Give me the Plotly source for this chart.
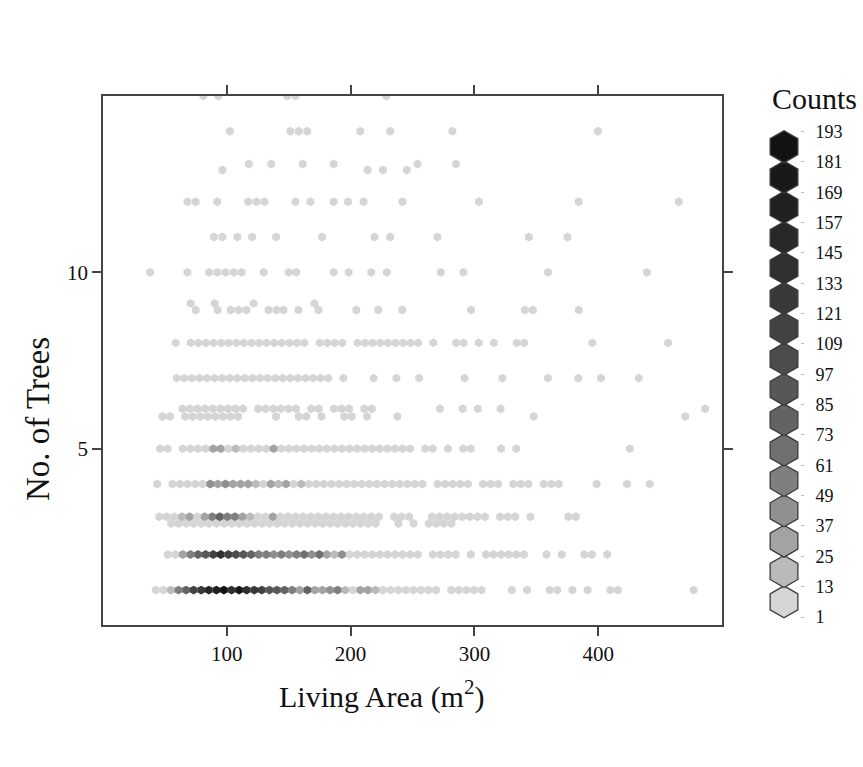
import plotly.graph_objects as go

# ---------------- data ----------------
HEX_DX = 6.12  # spacing of hexagon columns, in m^2

# dense rows: (row y, x of first column, counts per column; 0 = empty)
row1_y, row1_x0 = 0.99, 42.6
row1_counts = [5, 8, 18, 60, 75, 110, 125, 150, 165, 193,
               135, 180, 140, 130, 115, 95, 90, 75, 60, 35,
               75, 25, 35, 45, 55, 18, 10, 35, 28, 14,
               9, 7, 10, 6, 8, 5, 6, 4, 0, 5,
               6, 4, 5, 3, 0, 0, 0, 2, 0, 3,
               0, 0, 2, 3, 0, 2, 0, 2, 0, 0,
               2, 1, 0, 0, 0, 0, 0, 0, 0, 0,
               0, 1]
row2_y, row2_x0 = 2.0, 52.3
row2_counts = [6, 10, 35, 55, 75, 90, 110, 135, 115, 105,
               95, 75, 60, 55, 45, 55, 45, 55, 70, 45,
               70, 35, 18, 45, 12, 9, 10, 8, 7, 9,
               6, 8, 5, 4, 0, 5, 4, 3, 3, 0,
               2, 0, 3, 4, 3, 2, 3, 2, 0, 0,
               2, 0, 1, 0, 0, 2, 1, 0, 1]
row3u_y, row3u_x0 = 3.07, 45.4
row3u_counts = [5, 7, 9, 15, 35, 10, 25, 60, 75, 60,
                55, 35, 16, 12, 8, 35, 9, 7, 8, 6,
                5, 6, 7, 5, 4, 6, 5, 4, 3, 3,
                0, 2, 3, 2, 0, 0, 2, 2, 2, 3,
                3, 2, 2, 2, 0, 2, 1, 2, 0, 1,
                0, 0, 0, 0, 1, 1]
row3l_y, row3l_x0 = 2.88, 55.0
row3l_counts = [6, 5, 7, 8, 6, 9, 7, 8, 6, 7,
                5, 6, 8, 7, 6, 5, 7, 6, 5, 4,
                5, 4, 3, 4, 3, 3, 2, 3, 0, 0,
                2, 0, 2, 0, 2, 3, 2, 1]
row4_y, row4_x0 = 4.0, 43.8
row4_counts = [4, 0, 5, 8, 6, 10, 10, 45, 25, 45,
               35, 35, 25, 15, 12, 35, 15, 35, 10, 14,
               8, 9, 7, 10, 6, 8, 7, 5, 6, 4,
               5, 4, 6, 3, 4, 3, 0, 3, 2, 3,
               2, 1, 0, 3, 2, 2, 0, 2, 1, 2,
               0, 2, 1, 2, 0, 0, 0, 0, 1, 0,
               0, 0, 1, 0, 0, 1]
row5_y, row5_x0 = 5.0, 46.1
row5_counts = [5, 4, 0, 6, 8, 7, 9, 25, 25, 10,
               22, 9, 8, 10, 7, 35, 8, 9, 6, 7,
               8, 6, 5, 7, 6, 5, 4, 6, 5, 4,
               3, 4, 3, 2, 0, 3, 2, 0, 2, 0,
               2, 2, 0, 0, 0, 1, 0, 1, 0, 0,
               0, 0, 0, 0, 0, 0, 0, 0, 0, 0,
               0, 0, 1]
row6u_y, row6u_x0 = 6.13, 64.1
row6u_counts = [4, 6, 5, 7, 6, 5, 8, 6, 5, 0,
                5, 6, 4, 5, 6, 4, 0, 3, 2, 0,
                3, 2, 3, 0, 2, 2, 0, 0, 0, 0,
                0, 0, 0, 0, 1, 0, 0, 1, 0, 1,
                0, 0, 1, 0, 0, 0, 0, 0, 0, 0,
                0, 0, 0, 0, 0, 0, 0, 0, 0, 0,
                0, 0, 0, 0, 0, 0, 0, 0, 0, 1]
row6l_y, row6l_x0 = 5.91, 48.0
row6l_counts = [3, 3, 0, 3, 4, 3, 5, 4, 3, 4,
                3, 0, 0, 0, 0, 2, 0, 0, 3, 2,
                0, 2, 0, 0, 2, 2, 0, 2, 0, 0,
                0, 1, 0, 0, 0, 0, 0, 0, 0, 0,
                0, 0, 0, 0, 0, 0, 0, 0, 0, 1,
                0, 0, 0, 0, 0, 0, 0, 0, 0, 0,
                0, 0, 0, 0, 0, 0, 0, 0, 0, 1]
row7_y, row7_x0 = 7.0, 59.5
row7_counts = [4, 5, 6, 5, 7, 6, 5, 6, 7, 5,
               6, 4, 5, 6, 5, 4, 5, 3, 4, 3,
               3, 0, 2, 0, 0, 0, 2, 0, 0, 1,
               0, 0, 2, 0, 0, 0, 0, 0, 1, 0,
               0, 0, 0, 1, 0, 0, 0, 0, 0, 1,
               0, 0, 0, 1, 0, 0, 1, 0, 0, 0,
               0, 1]
row8_y, row8_x0 = 8.0, 58.7
row8_counts = [1, 0, 4, 5, 4, 6, 5, 4, 5, 6,
               4, 5, 3, 4, 5, 3, 4, 3, 0, 3,
               2, 3, 2, 0, 2, 3, 2, 3, 2, 2,
               3, 2, 2, 0, 1, 0, 0, 1, 1, 0,
               1, 0, 1, 0, 0, 1, 1, 0, 0, 0,
               0, 0, 0, 0, 0, 1, 0, 0, 0, 0,
               0, 0, 0, 0, 0, 1]

# sparse rows: (row y, x centres, counts)
row9u_y = 9.12
row9u_x = [70.8, 90.2, 121.6, 170.8]
row9u_counts = [1, 1, 2, 1]
row9l_y = 8.93
row9l_x = [74.9, 92.6, 103.1, 109.5, 115.9, 133.7, 140.2, 145.8, 157.9,
           174.0, 204.6, 222.3, 241.7, 297.3, 340.8, 347.2, 384.3]
row9l_counts = [1, 2, 2, 3, 2, 2, 3, 2, 1, 2, 1, 1, 1, 1, 1, 1, 1]
row10_y = 10.0
row10_x = [38.0, 68.2, 85.6, 92.3, 99.0, 105.7, 111.9, 129.9, 150.0, 156.0,
           186.3, 198.4, 216.7, 229.3, 272.8, 291.1, 359.5, 439.3]
row10_counts = [1, 1, 2, 3, 2, 2, 1, 2, 1, 2, 1, 1, 1, 1, 1, 1, 1, 1]
row11_y = 11.0
row11_x = [89.6, 96.4, 108.5, 120.5, 139.9, 177.0, 219.3, 232.0, 270.1,
           344.0, 375.2]
row11_counts = [2, 1, 2, 1, 2, 1, 1, 1, 1, 1, 1]
row12_y = 12.0
row12_x = [68.2, 74.9, 92.3, 117.3, 124.0, 130.5, 155.4, 167.5, 186.3,
           197.9, 210.5, 241.9, 303.7, 384.3, 465.1]
row12_counts = [1, 2, 1, 2, 1, 2, 1, 1, 1, 1, 1, 1, 1, 1, 1]
row13u_y = 13.07
row13u_x = [117.8, 135.9, 161.3, 186.3, 254.1, 285.2]
row13u_counts = [1, 1, 1, 1, 1, 1]
row13l_y = 12.9
row13l_x = [96.4, 213.7, 226.1, 245.4]
row13l_counts = [1, 1, 1, 1]
row14_y = 14.0
row14_x = [102.5, 151.4, 158.1, 164.9, 207.8, 232.0, 282.2, 399.8]
row14_counts = [1, 1, 2, 1, 1, 1, 1, 1]
row15_y = 15.0
row15_x = [81.1, 93.2, 148.7, 155.4, 228.8]
row15_counts = [1, 1, 1, 2, 1]

# legend breaks (Counts)
count_breaks = [1, 13, 25, 37, 49, 61, 73, 85, 97, 109, 121, 133, 145,
                157, 169, 181, 193]

x_ticks = [100, 200, 300, 400]
y_ticks = [5, 10]

# ---------------- styling ----------------
GRAYS = [213, 186, 163, 144, 127, 112, 99, 87, 76, 66, 57, 48, 40, 32, 25, 18]
FONT = "Liberation Serif, Times New Roman, serif"


def level_of(c):
    for i in range(len(count_breaks) - 1):
        if c < count_breaks[i + 1]:
            return i
    return len(count_breaks) - 2


def gray(level):
    g = GRAYS[level]
    return f"rgb({g},{g},{g})"


xs, ys, cs = [], [], []
dense_rows = [
    (row1_y, row1_x0, row1_counts), (row2_y, row2_x0, row2_counts),
    (row3u_y, row3u_x0, row3u_counts), (row3l_y, row3l_x0, row3l_counts),
    (row4_y, row4_x0, row4_counts), (row5_y, row5_x0, row5_counts),
    (row6u_y, row6u_x0, row6u_counts), (row6l_y, row6l_x0, row6l_counts),
    (row7_y, row7_x0, row7_counts), (row8_y, row8_x0, row8_counts),
]
for y, x0, counts in dense_rows:
    for k, c in enumerate(counts):
        if c > 0:
            xs.append(x0 + k * HEX_DX)
            ys.append(y)
            cs.append(c)
sparse_rows = [
    (row9u_y, row9u_x, row9u_counts), (row9l_y, row9l_x, row9l_counts),
    (row10_y, row10_x, row10_counts), (row11_y, row11_x, row11_counts),
    (row12_y, row12_x, row12_counts), (row13u_y, row13u_x, row13u_counts),
    (row13l_y, row13l_x, row13l_counts), (row14_y, row14_x, row14_counts),
    (row15_y, row15_x, row15_counts),
]
for y, xlist, counts in sparse_rows:
    for x, c in zip(xlist, counts):
        xs.append(x)
        ys.append(y)
        cs.append(c)

# draw light cells first so darker ones sit on top
order = sorted(range(len(cs)), key=lambda i: cs[i])
xs = [xs[i] for i in order]
ys = [ys[i] for i in order]
cs = [cs[i] for i in order]

W, H = 863, 767
fig = go.Figure()
fig.add_trace(go.Scatter(
    x=xs, y=ys, mode="markers", xaxis="x", yaxis="y",
    marker=dict(symbol="hexagon", size=8.9,
                color=[gray(level_of(c)) for c in cs], line=dict(width=0)),
    customdata=cs,
    hovertemplate="x=%{x:.0f}, y=%{y:.0f}<br>count=%{customdata}<extra></extra>",
    showlegend=False, cliponaxis=True,
))

n_levels = len(count_breaks) - 1
fig.add_trace(go.Scatter(
    x=[0] * n_levels, y=[i + 0.5 for i in range(n_levels)],
    mode="markers", xaxis="x2", yaxis="y2",
    marker=dict(symbol="hexagon", size=32,
                color=[gray(i) for i in range(n_levels)],
                line=dict(width=1.3, color="#3a3a3a")),
    hoverinfo="skip", showlegend=False, cliponaxis=False,
))

axis_line = dict(showline=True, linecolor="#444", linewidth=1.6, mirror="ticks",
                 ticks="outside", ticklen=9, tickwidth=1.6, tickcolor="#444",
                 showgrid=False, zeroline=False, automargin=False,
                 tickfont=dict(family=FONT, size=21, color="#111"))

fig.update_layout(
    width=W, height=H, margin=dict(l=0, r=0, t=0, b=0, autoexpand=False),
    paper_bgcolor="white", plot_bgcolor="white",
    font=dict(family=FONT, color="#111"),
    xaxis=dict(domain=[103 / W, 722 / W], range=[0, 500], anchor="y",
               tickvals=x_ticks, **axis_line),
    yaxis=dict(domain=[1 - 625 / H, 1 - 96 / H], range=[0, 15], anchor="x",
               tickvals=y_ticks, **axis_line),
    xaxis2=dict(domain=[768 / W, 800 / W], range=[-1, 1], anchor="y2",
                visible=False),
    yaxis2=dict(domain=[1 - 617 / H, 1 - 131.5 / H], range=[0, n_levels],
                anchor="x2", side="right", tickvals=list(range(n_levels + 1)),
                ticktext=[str(b) for b in count_breaks], ticks="outside",
                ticklen=3, tickcolor="#bbb", showline=False, showgrid=False,
                zeroline=False, ticklabelstandoff=8, automargin=False,
                tickfont=dict(family=FONT, size=18, color="#111")),
    annotations=[
        dict(text="Living Area (m<sup>2</sup>)", x=381 / W, y=1 - 694 / H,
             xref="paper", yref="paper", showarrow=False,
             xanchor="center", yanchor="middle",
             font=dict(family=FONT, size=30, color="#111")),
        dict(text="No. of Trees", x=38 / W, y=1 - 419 / H, textangle=-90,
             xref="paper", yref="paper", showarrow=False,
             xanchor="center", yanchor="middle",
             font=dict(family=FONT, size=33, color="#111")),
        dict(text="Counts", x=814 / W, y=1 - 98 / H,
             xref="paper", yref="paper", showarrow=False,
             xanchor="center", yanchor="middle",
             font=dict(family=FONT, size=30, color="#111")),
    ],
)

fig.write_html("out.html")
